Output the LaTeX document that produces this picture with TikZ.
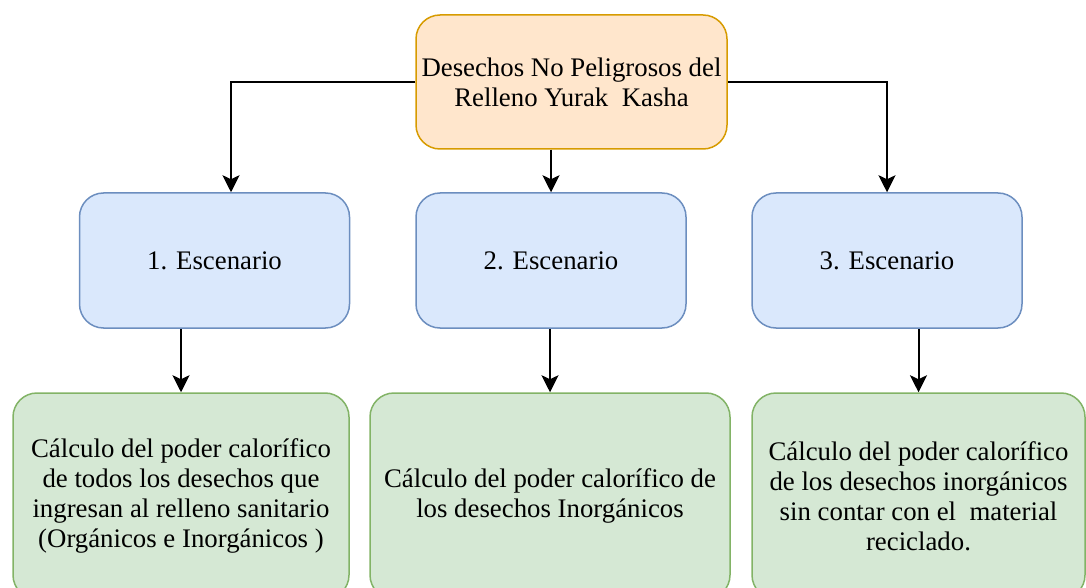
\documentclass[tikz,border=0pt]{standalone}
\usepackage{fontspec}
\setmainfont{Liberation Serif}
\usetikzlibrary{arrows.meta,positioning}
\definecolor{wasteorange}{HTML}{FFE6CC}
\definecolor{wasteedge}{HTML}{D79B00}
\definecolor{scenblue}{HTML}{DAE8FC}
\definecolor{scenedge}{HTML}{6C8EBF}
\definecolor{calcgreen}{HTML}{D5E8D4}
\definecolor{calcedge}{HTML}{82B366}

\begin{document}
\begin{tikzpicture}[x=0.5pt,y=-0.5pt,>={Stealth[length=8.5pt,width=8.5pt,inset=2pt]}, every node/.style={font=\fontsize{13.4}{15}\selectfont,align=center,inner sep=0pt}]
    \tikzset{waste/.style={draw=wasteedge,fill=wasteorange,rounded corners=12pt,line width=0.75pt,minimum width=155.5pt,minimum height=67pt}}
    \tikzset{scen/.style={draw=scenedge,fill=scenblue,rounded corners=12pt,line width=0.75pt,minimum width=135pt,minimum height=67.5pt}}
    \tikzset{calc/.style={draw=calcedge,fill=calcgreen,rounded corners=12pt,line width=0.75pt,minimum height=103pt}}
    \tikzset{link/.style={->,line width=1pt}}

    \useasboundingbox (0,0) rectangle (1086,588);
    \clip (0,0) rectangle (1086,588);

    % Source of the waste
    \node[waste] (waste) at (571.5,82) {Desechos No Peligrosos del\\Relleno Yurak\ \ Kasha};

    % Scenarios
    \node[scen] (scen1) at (214.5,260.5) {1. Escenario};
    \node[scen] (scen2) at (551,260.5) {2. Escenario};
    \node[scen] (scen3) at (887,260.5) {3. Escenario};

    % Calculations (cut at the bottom)
    \node[calc,minimum width=168pt] (calc1) at (181,496) {Cálculo del poder calorífico\\de todos los desechos que\\ingresan al relleno sanitario\\(Orgánicos e Inorgánicos )};
    \node[calc,minimum width=180pt] (calc2) at (550,496) {Cálculo del poder calorífico de\\los desechos Inorgánicos};
    \node[calc,minimum width=166.5pt] (calc3) at (918.5,496) {Cálculo del poder calorífico\\de los desechos inorgánicos\\sin contar con el\ \ material\\reciclado.};

    % Arrows waste -> scenarios
    \draw[link] (waste.west) -| ([xshift=8.25pt]scen1.north);
    \draw[link] (scen2.north |- waste.south) -- (scen2.north);
    \draw[link] (waste.east) -| (scen3.north);

    % Arrows scenarios -> calculations
    \draw[link] (calc1.north |- scen1.south) -- (calc1.north);
    \draw[link] (calc2.north |- scen2.south) -- (calc2.north);
    \draw[link] (calc3.north |- scen3.south) -- (calc3.north);
  \end{tikzpicture}
\end{document}
